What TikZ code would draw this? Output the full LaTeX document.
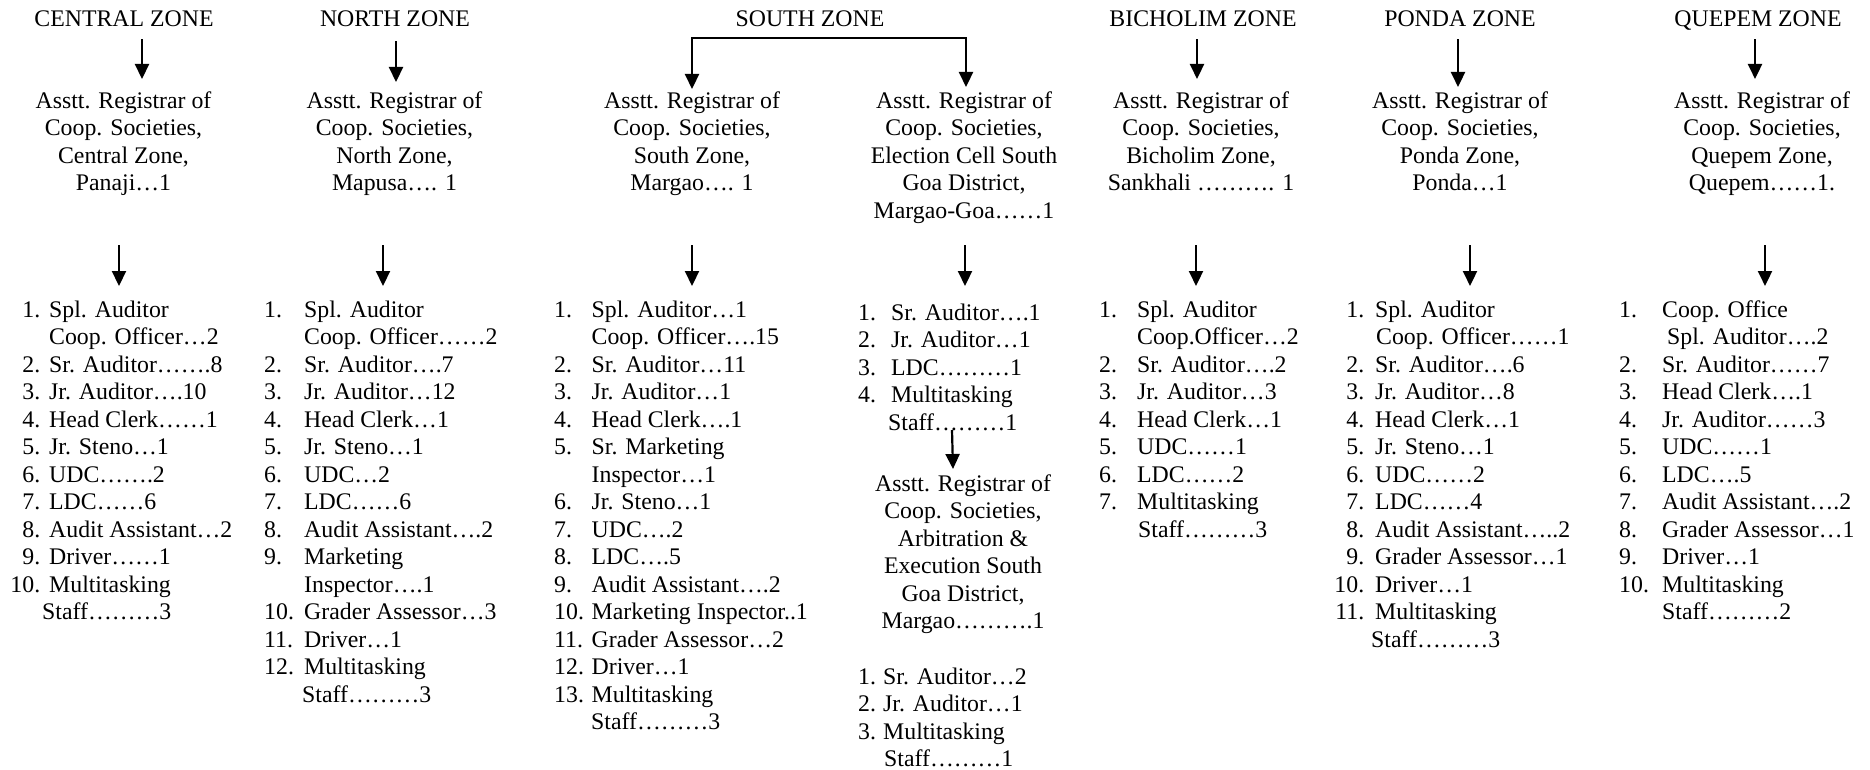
\documentclass[tikz,border=0pt]{standalone}
\usepackage{fontspec}
\setmainfont{Liberation Serif}
\usetikzlibrary{arrows.meta,calc}
% numbered list entry: number left-aligned / right-aligned in a fixed box
\newcommand{\nL}[2]{\makebox[#1][l]{#2}}
\newcommand{\nR}[3]{\makebox[#1][r]{#3\hspace{#2}}}

\begin{document}
\begin{tikzpicture}[x=1pt,y=-1pt,
  txt/.style={inner sep=0pt, font=\fontsize{23.8pt}{27.5pt}\selectfont},
  head/.style={txt, anchor=north},
  reg/.style={txt, anchor=north, align=center},
  lst/.style={txt, anchor=north west, align=left},
  arr/.style={line width=2.2pt, -{Triangle[width=14pt,length=15pt]}},
  barr/.style={line width=2.2pt, {Triangle[width=14pt,length=15pt]}-{Triangle[width=14pt,length=15pt]}},
]
\path[fill=white] (0,0) rectangle (1870,770);
\useasboundingbox (0,0) rectangle (1870,770);

% ---------- zone headings ----------
\node[head] (ct) at (124,6.75)  {\strut CENTRAL ZONE};
\node[head] (nt) at (395,6.75)  {\strut NORTH ZONE};
\node[head] (st) at (810,6.75)  {\strut SOUTH ZONE};
\node[head] (bt) at (1203,6.75) {\strut BICHOLIM ZONE};
\node[head] (pdt) at (1460,6.75) {\strut PONDA ZONE};
\node[head] (qt) at (1758,6.75) {\strut QUEPEM ZONE};

% ---------- registrar offices ----------
\node[reg] (cr) at (123.5,88.75) {\strut Asstt. Registrar of\\Coop. Societies,\\Central Zone,\\Panaji…1};
\node[reg] (nr) at (394.5,88.75) {\strut Asstt. Registrar of\\Coop. Societies,\\North Zone,\\Mapusa…. 1};
\node[reg] (sr) at (692,88.75)   {\strut Asstt. Registrar of\\Coop. Societies,\\South Zone,\\Margao…. 1};
\node[reg] (er) at (964,88.75)   {\strut Asstt. Registrar of\\Coop. Societies,\\Election Cell South\\Goa District,\\Margao-Goa……1};
\node[reg] (br) at (1201,88.75)  {\strut Asstt. Registrar of\\Coop. Societies,\\Bicholim Zone,\\Sankhali ………. 1};
\node[reg] (pr) at (1460,88.75)  {\strut Asstt. Registrar of\\Coop. Societies,\\Ponda Zone,\\Ponda…1};
\node[reg] (qr) at (1762,88.75)  {\strut Asstt. Registrar of\\Coop. Societies,\\Quepem Zone,\\Quepem……1.};

% ---------- staff lists ----------
\node[lst] (cl) at (10,297.75) {\strut\nR{39pt}{9pt}{1.}Spl. Auditor\\
  \hspace*{39pt}Coop. Officer…2\\
  \nR{39pt}{9pt}{2.}Sr. Auditor…….8\\
  \nR{39pt}{9pt}{3.}Jr. Auditor….10\\
  \nR{39pt}{9pt}{4.}Head Clerk……1\\
  \nR{39pt}{9pt}{5.}Jr. Steno…1\\
  \nR{39pt}{9pt}{6.}UDC…….2\\
  \nR{39pt}{9pt}{7.}LDC……6\\
  \nR{39pt}{9pt}{8.}Audit Assistant…2\\
  \nR{39pt}{9pt}{9.}Driver……1\\
  \nR{39pt}{9pt}{10.}Multitasking\\
  \hspace*{32pt}Staff………3};

\node[lst] (nl) at (264,297.75) {\strut\nL{40pt}{1.}Spl. Auditor\\
  \hspace*{40pt}Coop. Officer……2\\
  \nL{40pt}{2.}Sr. Auditor….7\\
  \nL{40pt}{3.}Jr. Auditor…12\\
  \nL{40pt}{4.}Head Clerk…1\\
  \nL{40pt}{5.}Jr. Steno…1\\
  \nL{40pt}{6.}UDC…2\\
  \nL{40pt}{7.}LDC……6\\
  \nL{40pt}{8.}Audit Assistant….2\\
  \nL{40pt}{9.}Marketing\\
  \hspace*{40pt}Inspector….1\\
  \nL{40pt}{10.}Grader Assessor…3\\
  \nL{40pt}{11.}Driver…1\\
  \nL{40pt}{12.}Multitasking\\
  \hspace*{38pt}Staff………3};

\node[lst] (sl) at (554,297.75) {\strut\nL{37.5pt}{1.}Spl. Auditor…1\\
  \hspace*{37.5pt}Coop. Officer….15\\
  \nL{37.5pt}{2.}Sr. Auditor…11\\
  \nL{37.5pt}{3.}Jr. Auditor…1\\
  \nL{37.5pt}{4.}Head Clerk….1\\
  \nL{37.5pt}{5.}Sr. Marketing\\
  \hspace*{37.5pt}Inspector…1\\
  \nL{37.5pt}{6.}Jr. Steno…1\\
  \nL{37.5pt}{7.}UDC….2\\
  \nL{37.5pt}{8.}LDC….5\\
  \nL{37.5pt}{9.}Audit Assistant….2\\
  \nL{37.5pt}{10.}Marketing Inspector..1\\
  \nL{37.5pt}{11.}Grader Assessor…2\\
  \nL{37.5pt}{12.}Driver…1\\
  \nL{37.5pt}{13.}Multitasking\\
  \hspace*{37pt}Staff………3};

\node[lst] (el) at (858,300.75) {\strut\nL{33pt}{1.}Sr. Auditor….1\\
  \nL{33pt}{2.}Jr. Auditor…1\\
  \nL{33pt}{3.}LDC………1\\
  \nL{33pt}{4.}Multitasking\\
  \hspace*{30pt}Staff………1};

\node[reg] (ar) at (963,471.75) {\strut Asstt. Registrar of\\Coop. Societies,\\Arbitration \&\\Execution South\\Goa District,\\Margao……….1};

\node[lst] (al) at (858,664.75) {\strut\nL{25pt}{1.}Sr. Auditor…2\\
  \nL{25pt}{2.}Jr. Auditor…1\\
  \nL{25pt}{3.}Multitasking\\
  \hspace*{26pt}Staff………1};

\node[lst] (bl) at (1099,297.75) {\strut\nL{38pt}{1.}Spl. Auditor\\
  \hspace*{38pt}Coop.Officer…2\\
  \nL{38pt}{2.}Sr. Auditor….2\\
  \nL{38pt}{3.}Jr. Auditor…3\\
  \nL{38pt}{4.}Head Clerk…1\\
  \nL{38pt}{5.}UDC……1\\
  \nL{38pt}{6.}LDC……2\\
  \nL{38pt}{7.}Multitasking\\
  \hspace*{39pt}Staff………3};

\node[lst] (pl) at (1333,297.75) {\strut\nR{42pt}{11pt}{1.}Spl. Auditor\\
  \hspace*{43pt}Coop. Officer……1\\
  \nR{42pt}{11pt}{2.}Sr. Auditor….6\\
  \nR{42pt}{11pt}{3.}Jr. Auditor…8\\
  \nR{42pt}{11pt}{4.}Head Clerk…1\\
  \nR{42pt}{11pt}{5.}Jr. Steno…1\\
  \nR{42pt}{11pt}{6.}UDC……2\\
  \nR{42pt}{11pt}{7.}LDC……4\\
  \nR{42pt}{11pt}{8.}Audit Assistant…..2\\
  \nR{42pt}{11pt}{9.}Grader Assessor…1\\
  \nR{42pt}{11pt}{10.}Driver…1\\
  \nR{42pt}{11pt}{11.}Multitasking\\
  \hspace*{38pt}Staff………3};

\node[lst] (ql) at (1619,297.75) {\strut\nL{43pt}{1.}Coop. Office\\
  \hspace*{48pt}Spl. Auditor….2\\
  \nL{43pt}{2.}Sr. Auditor……7\\
  \nL{43pt}{3.}Head Clerk….1\\
  \nL{43pt}{4.}Jr. Auditor……3\\
  \nL{43pt}{5.}UDC……1\\
  \nL{43pt}{6.}LDC….5\\
  \nL{43pt}{7.}Audit Assistant….2\\
  \nL{43pt}{8.}Grader Assessor…1\\
  \nL{43pt}{9.}Driver…1\\
  \nL{43pt}{10.}Multitasking\\
  \hspace*{43pt}Staff………2};

% ---------- heading -> registrar ----------
\draw[arr] ($(ct.south)+(18,4.75)$) -- ($(cr.north)+(18.5,-9.75)$);
\draw[arr] ($(nt.south)+(1,6.75)$) -- ($(nr.north)+(1.5,-6.75)$);
\draw[barr] ($(sr.north)+(0,0.25)$) |- ($(st.south)+(0,3.75)$) -| ($(er.north)+(2,-1.75)$);
\draw[arr] ($(bt.south)+(-6,4.75)$) -- ($(br.north)+(-4,-9.75)$);
\draw[arr] ($(pdt.south)+(-2,4.75)$) -- ($(pr.north)+(-2,-1.75)$);
\draw[arr] ($(qt.south)+(-3,4.75)$) -- ($(qr.north)+(-7,-9.75)$);

% ---------- registrar -> staff list ----------
\draw[arr] ($(cr.north)+(-4.5,156.25)$) -- ($(cl.north west)+(109,-11.75)$);
\draw[arr] ($(nr.north)+(-11.5,156.25)$) -- ($(nl.north west)+(119,-11.75)$);
\draw[arr] ($(sr.north)+(0,156.25)$) -- ($(sl.north west)+(138,-11.75)$);
\draw[arr] ($(er.north)+(1,156.25)$) -- ($(el.north west)+(107,-14.75)$);
\draw[arr] ($(br.north)+(-5,156.25)$) -- ($(bl.north west)+(97,-11.75)$);
\draw[arr] ($(pr.north)+(10,156.25)$) -- ($(pl.north west)+(137,-11.75)$);
\draw[arr] ($(qr.north)+(3,156.25)$) -- ($(ql.north west)+(146,-11.75)$);

% ---------- election cell -> arbitration office ----------
\draw[arr] ($(el.north west)+(94,129.25)$) -- ($(ar.north)+(-10,-2.75)$);
\end{tikzpicture}
\end{document}
